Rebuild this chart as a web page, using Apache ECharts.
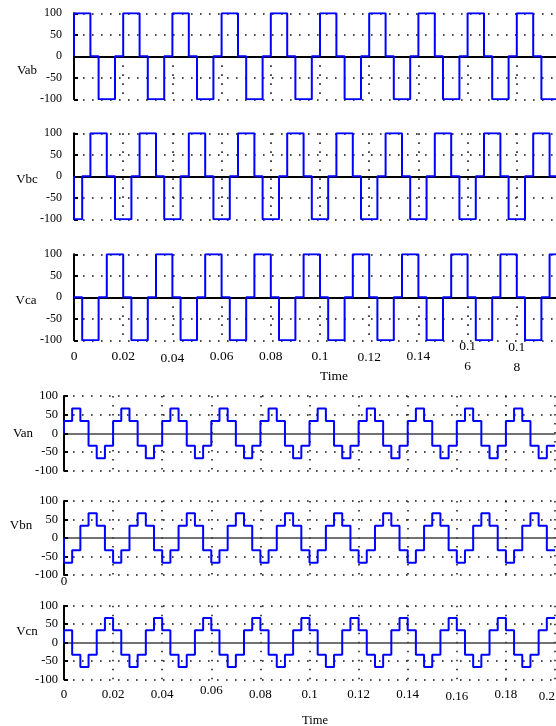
<!DOCTYPE html>
<html><head><meta charset="utf-8">
<script src="https://cdn.jsdelivr.net/npm/echarts@6/dist/echarts.min.js"></script>
<style>html,body{margin:0;padding:0;background:#fff}#c{width:556px;height:726px}</style>
</head><body><div id="c"></div>
<script>
// switching instants (s), one every sixth of a 0.02 s period
const edges = [
  0, 0.00333, 0.00667, 0.01, 0.01333, 0.01667,
  0.02, 0.02333, 0.02667, 0.03, 0.03333, 0.03667,
  0.04, 0.04333, 0.04667, 0.05, 0.05333, 0.05667,
  0.06, 0.06333, 0.06667, 0.07, 0.07333, 0.07667,
  0.08, 0.08333, 0.08667, 0.09, 0.09333, 0.09667,
  0.1, 0.10333, 0.10667, 0.11, 0.11333, 0.11667,
  0.12, 0.12333, 0.12667, 0.13, 0.13333, 0.13667,
  0.14, 0.14333, 0.14667, 0.15, 0.15333, 0.15667,
  0.16, 0.16333, 0.16667, 0.17, 0.17333, 0.17667,
  0.18, 0.18333, 0.18667, 0.19, 0.19333, 0.19667,
  0.2
];
const startLevel = 0;
const Vab = [
  100,100,0,-100,-100,0, 100,100,0,-100,-100,0, 100,100,0,-100,-100,0, 100,100,0,-100,-100,0, 100,100,0,-100,-100,0,
  100,100,0,-100,-100,0, 100,100,0,-100,-100,0, 100,100,0,-100,-100,0, 100,100,0,-100,-100,0, 100,100,0,-100,-100,0
];
const Vbc = [
  -100,0,100,100,0,-100, -100,0,100,100,0,-100, -100,0,100,100,0,-100, -100,0,100,100,0,-100, -100,0,100,100,0,-100,
  -100,0,100,100,0,-100, -100,0,100,100,0,-100, -100,0,100,100,0,-100, -100,0,100,100,0,-100, -100,0,100,100,0,-100
];
const Vca = [
  0,-100,-100,0,100,100, 0,-100,-100,0,100,100, 0,-100,-100,0,100,100, 0,-100,-100,0,100,100, 0,-100,-100,0,100,100,
  0,-100,-100,0,100,100, 0,-100,-100,0,100,100, 0,-100,-100,0,100,100, 0,-100,-100,0,100,100, 0,-100,-100,0,100,100
];
const Van = [
  33.3,66.7,33.3,-33.3,-66.7,-33.3, 33.3,66.7,33.3,-33.3,-66.7,-33.3, 33.3,66.7,33.3,-33.3,-66.7,-33.3, 33.3,66.7,33.3,-33.3,-66.7,-33.3, 33.3,66.7,33.3,-33.3,-66.7,-33.3,
  33.3,66.7,33.3,-33.3,-66.7,-33.3, 33.3,66.7,33.3,-33.3,-66.7,-33.3, 33.3,66.7,33.3,-33.3,-66.7,-33.3, 33.3,66.7,33.3,-33.3,-66.7,-33.3, 33.3,66.7,33.3,-33.3,-66.7,-33.3
];
const Vbn = [
  -66.7,-33.3,33.3,66.7,33.3,-33.3, -66.7,-33.3,33.3,66.7,33.3,-33.3, -66.7,-33.3,33.3,66.7,33.3,-33.3, -66.7,-33.3,33.3,66.7,33.3,-33.3, -66.7,-33.3,33.3,66.7,33.3,-33.3,
  -66.7,-33.3,33.3,66.7,33.3,-33.3, -66.7,-33.3,33.3,66.7,33.3,-33.3, -66.7,-33.3,33.3,66.7,33.3,-33.3, -66.7,-33.3,33.3,66.7,33.3,-33.3, -66.7,-33.3,33.3,66.7,33.3,-33.3
];
const Vcn = [
  33.3,-33.3,-66.7,-33.3,33.3,66.7, 33.3,-33.3,-66.7,-33.3,33.3,66.7, 33.3,-33.3,-66.7,-33.3,33.3,66.7, 33.3,-33.3,-66.7,-33.3,33.3,66.7, 33.3,-33.3,-66.7,-33.3,33.3,66.7,
  33.3,-33.3,-66.7,-33.3,33.3,66.7, 33.3,-33.3,-66.7,-33.3,33.3,66.7, 33.3,-33.3,-66.7,-33.3,33.3,66.7, 33.3,-33.3,-66.7,-33.3,33.3,66.7, 33.3,-33.3,-66.7,-33.3,33.3,66.7
];
const topTickLabels = ['0','0.02','0.04','0.06','0.08','0.1','0.12','0.14','0.1\n6','0.1\n8',''];
const bottomTickLabels = ['0','0.02','0.04','0.06','0.08','0.1','0.12','0.14','0.16','0.18','0.2'];
const vbnTickLabels = ['0','','','','','','','','','',''];
// small vertical offsets of individual tick labels in the picture (px, + = lower)
const topLabelShift = [0, 0, 2, 0, 0, 0, 1, 0, 0, 1, 0];
const bottomLabelShift = [0, 0, 0, -4, 0, 0, 0, 0, 2, 0, 2];
const xMin = 0, xMax = 0.2, xStep = 0.02;
const yMin = -100, yMax = 100, yStep = 50;

const FONT = 'Liberation Serif';
const dots = { type: [1.6, 7.4], width: 1.5, color: '#111' };

function buildData(levels) {
  const d = [[edges[0], startLevel]];
  for (let i = 0; i < levels.length; i++) d.push([edges[i], levels[i]]);
  d.push([edges[levels.length], levels[levels.length - 1]]);
  return d;
}

const grids = [], xAxes = [], yAxes = [], series = [];

function richFor(size) {
  const r = {};
  for (let s = -6; s <= 6; s++) {
    const key = 's' + (s < 0 ? 'm' + (-s) : s);
    r[key] = { fontSize: size, fontFamily: FONT, color: '#000', lineHeight: size * 1.45,
      padding: s >= 0 ? [2 * s, 0, 0, 0] : [0, 0, -2 * s, 0] };
  }
  return r;
}

function panel(p) {
  const g = grids.length;
  grids.push({ left: p.left, top: p.top, width: p.width, height: p.height, outerBoundsMode: 'none', containLabel: false });
  const xi = xAxes.length, yi = yAxes.length;
  xAxes.push({
    gridIndex: g, type: 'value', min: xMin, max: xMax, interval: xStep,
    axisLine: { show: true, onZero: true, lineStyle: { color: p.zeroColor, width: p.zeroWidth } },
    axisTick: { show: false }, axisLabel: { show: false },
    splitLine: { show: p.vSplit === 'full', lineStyle: dots }
  });
  yAxes.push({
    gridIndex: g, type: 'value', min: yMin, max: yMax, interval: yStep,
    axisLine: { show: true, onZero: false, lineStyle: { color: '#000', width: 2 } },
    axisTick: { show: true, inside: true, length: 4, lineStyle: { color: '#000', width: 2 } },
    axisLabel: { margin: p.yMargin, fontSize: p.yFont, fontFamily: FONT, color: '#000' },
    splitLine: { show: true, lineStyle: { type: dots.type, width: dots.width, color: ['#111', '#111', 'rgba(0,0,0,0)', '#111', '#111'] } }
  });
  if (p.labels) {
    const shifts = p.shifts || [];
    xAxes.push({
      gridIndex: g, type: 'value', min: xMin, max: xMax, interval: xStep, position: 'bottom',
      axisLine: { show: false, onZero: false }, axisTick: { show: false },
      splitLine: { show: false },
      axisLabel: {
        show: true, margin: p.xMargin, fontSize: p.xFont, fontFamily: FONT, color: '#000',
        verticalAlign: 'middle', lineHeight: p.xFont * 1.45,
        showMinLabel: true, showMaxLabel: true, hideOverlap: false,
        alignMaxLabel: 'right',
        rich: richFor(p.xFont),
        formatter: v => {
          const k = Math.round(v / xStep);
          const t = p.labels[k];
          if (!t) return '';
          const s = shifts[k] || 0;
          const key = 's' + (s < 0 ? 'm' + (-s) : s);
          return t.split('\n').map(line => '{' + key + '|' + line + '}').join('\n');
        }
      }
    });
  }
  if (p.vSplit === 'lower') {
    const g2 = grids.length;
    grids.push({ left: p.left, top: p.top + p.height / 2, width: p.width, height: p.height / 2, outerBoundsMode: 'none', containLabel: false });
    xAxes.push({
      gridIndex: g2, type: 'value', min: xMin, max: xMax, interval: xStep,
      axisLine: { show: false, onZero: false }, axisTick: { show: false }, axisLabel: { show: false },
      splitLine: { show: true, lineStyle: dots }
    });
    yAxes.push({
      gridIndex: g2, type: 'value', min: yMin, max: 0,
      axisLine: { show: false }, axisTick: { show: false }, axisLabel: { show: false }, splitLine: { show: false }
    });
  }
  series.push({
    name: p.name, type: 'line', step: 'end', xAxisIndex: xi, yAxisIndex: yi,
    data: buildData(p.levels), showSymbol: false, symbol: 'none', z: 5,
    lineStyle: { color: '#0000ff', width: 2 }, animation: false
  });
}

const topCommon = { left: 74, width: 492, height: 86, zeroColor: '#000', zeroWidth: 2, yMargin: 12, yFont: 12 };
const botCommon = { left: 64, width: 491, zeroColor: '#444', zeroWidth: 1.5, yMargin: 6, yFont: 12.5, vSplit: 'full' };

panel(Object.assign({}, topCommon, { name: 'Vab', top: 13.3, levels: Vab, vSplit: 'lower' }));
panel(Object.assign({}, topCommon, { name: 'Vbc', top: 133.3, levels: Vbc, vSplit: 'full' }));
panel(Object.assign({}, topCommon, { name: 'Vca', top: 254.3, levels: Vca, vSplit: 'lower', labels: topTickLabels, shifts: topLabelShift, xMargin: 16, xFont: 13.5 }));
panel(Object.assign({}, botCommon, { name: 'Van', top: 396, height: 74.7, levels: Van }));
panel(Object.assign({}, botCommon, { name: 'Vbn', top: 501, height: 74, levels: Vbn, labels: vbnTickLabels, xMargin: 7, xFont: 13 }));
panel(Object.assign({}, botCommon, { name: 'Vcn', top: 605.7, height: 73.6, levels: Vcn, labels: bottomTickLabels, shifts: bottomLabelShift, xMargin: 15, xFont: 13 }));

function txt(t, x, y, size) {
  return { type: 'text', x: x, y: y, silent: true,
    style: { text: t, fontFamily: FONT, fontSize: size, fill: '#000', align: 'center', verticalAlign: 'middle' } };
}

const chart = echarts.init(document.getElementById('c'), null, { renderer: 'canvas' });
chart.setOption({
  backgroundColor: '#fff',
  animation: false,
  grid: grids, xAxis: xAxes, yAxis: yAxes, series: series,
  graphic: [
    txt('Vab', 27, 71, 13), txt('Vbc', 27, 180, 13), txt('Vca', 26, 300.5, 13),
    txt('Van', 23, 434, 13), txt('Vbn', 21, 526, 13), txt('Vcn', 27, 632, 13),
    txt('Time', 334, 376, 13.5), txt('Time', 315, 720.5, 12.5)
  ]
});
</script></body></html>
